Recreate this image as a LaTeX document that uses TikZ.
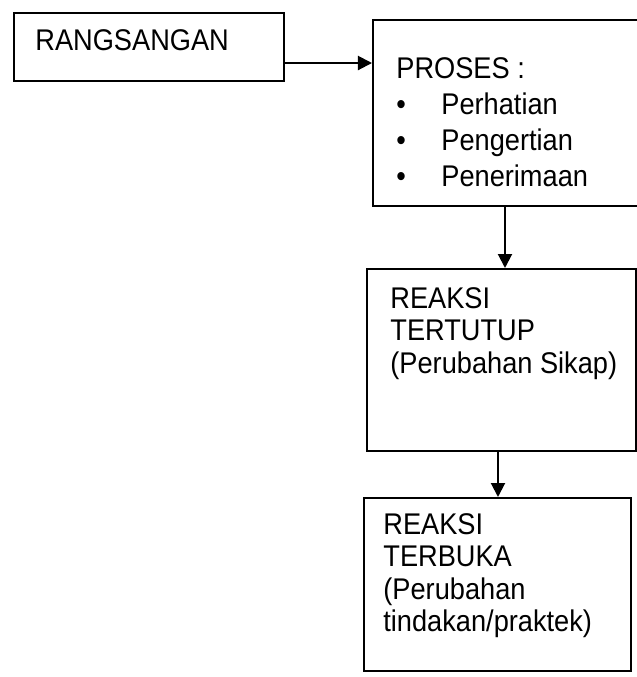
\documentclass[tikz,border=0pt]{standalone}
\usepackage{fontspec}
\setmainfont{Liberation Sans}
\usetikzlibrary{arrows.meta}

\begin{document}
\begin{tikzpicture}[x=0.5pt, y=-0.5pt,
	box/.style={draw, line width=1.2pt, anchor=north west, inner sep=0pt},
	txt/.style={anchor=north west, align=left, inner sep=0pt, yscale=1.1},
	arr/.style={line width=1pt, -{Triangle[length=7pt, width=7pt]}}]
	\clip (0,0) rectangle (637,677);
	\node[box, minimum width=135pt, minimum height=34pt] (rang) at (13,12) {};
	\node[box, minimum width=140pt, minimum height=93pt] (proses) at (372,19) {};
	\node[box, minimum width=134.5pt, minimum height=91pt] (tertutup) at (366,268) {};
	\node[box, minimum width=133.5pt, minimum height=86.5pt] (terbuka) at (363,497) {};
	\node[txt, font=\fontsize{13.6}{14.5}\selectfont] (rangtxt) at (35,29) {RANGSANGAN};
	\node[txt, font=\fontsize{13.6}{16.4}\selectfont] (prosestxt) at (396,57)
		{PROSES :\\ \makebox[22.5pt][l]{•}Perhatian\\ \makebox[22.5pt][l]{•}Pengertian\\ \makebox[22.5pt][l]{•}Penerimaan};
	\node[txt, font=\fontsize{13.6}{14.8}\selectfont] (tertututxt) at (390,287)
		{REAKSI\\ TERTUTUP\\ (Perubahan Sikap)};
	\node[txt, font=\fontsize{13.6}{14.7}\selectfont] (terbukatxt) at (383,513)
		{REAKSI\\ TERBUKA\\ (Perubahan\\ tindakan/praktek)};
	\draw[arr] (rang.east |- 0,63) -- (proses.west |- 0,63);
	\draw[arr] (proses.south -| 505,0) -- (tertutup.north -| 505,0);
	\draw[arr] (tertutup.south -| 498,0) -- (terbuka.north -| 498,0);
\end{tikzpicture}
\end{document}
